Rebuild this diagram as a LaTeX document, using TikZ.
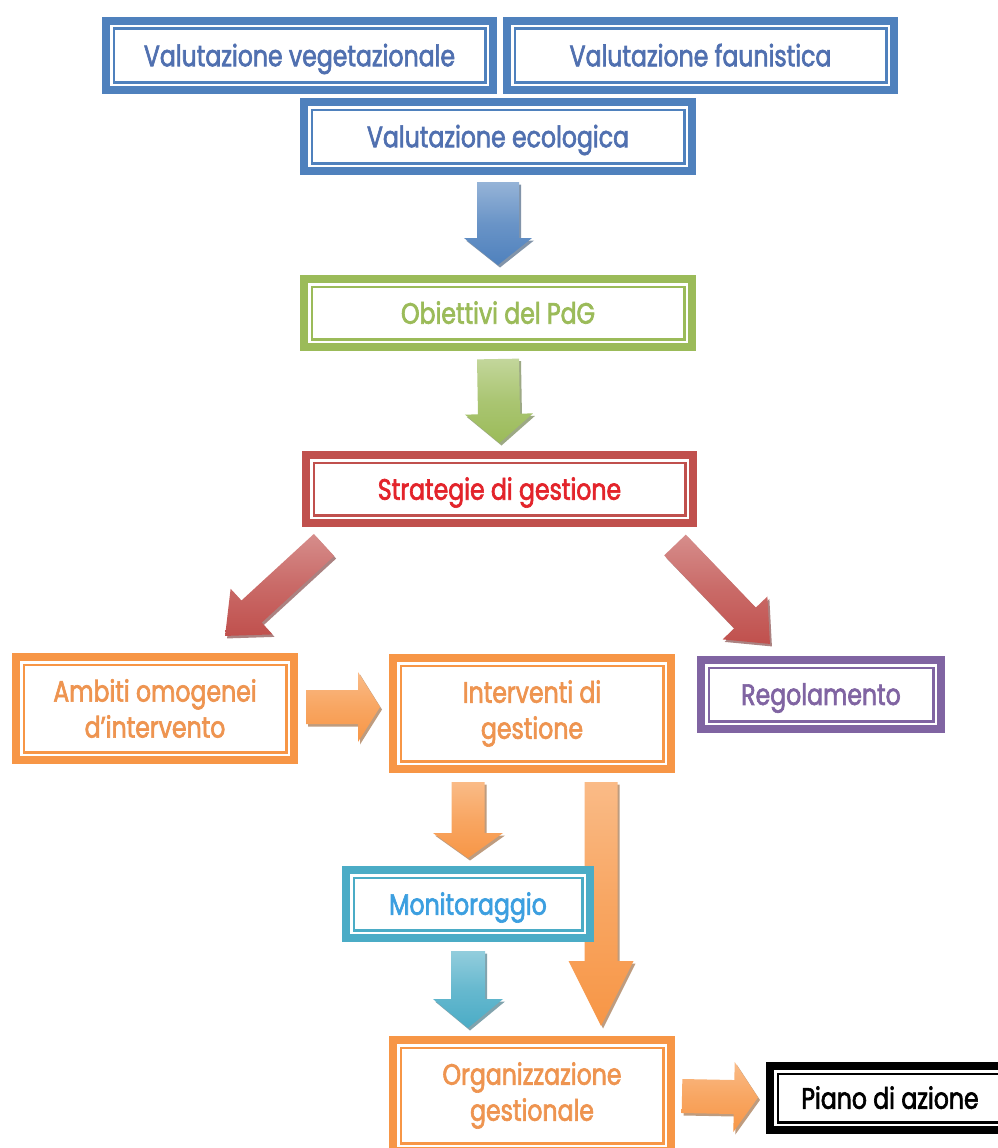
\documentclass[tikz,border=0pt]{standalone}
\usepackage{fontspec}
\setmainfont{Poppins}[FakeStretch=0.8, FakeBold=2.2]
\usetikzlibrary{calc,backgrounds}
\definecolor{cblue}{HTML}{4F81BD}\definecolor{tblue}{HTML}{5070B0}
\definecolor{cgreen}{HTML}{9BBB59}
\definecolor{cred}{HTML}{C0504D}\definecolor{tred}{HTML}{E3242B}
\definecolor{corange}{HTML}{F79646}\definecolor{torange}{HTML}{EE9450}
\definecolor{cpurple}{HTML}{8064A2}
\definecolor{cteal}{HTML}{4BACC6}\definecolor{tteal}{HTML}{3C9FE0}
\colorlet{lblue}{cblue!60!white}\colorlet{lgreen}{cgreen!60!white}
\colorlet{lred}{cred!65!white}\colorlet{lorange}{corange!65!white}
\colorlet{lteal}{cteal!60!white}
\newcommand\blockarrow[7]{% base, light, from, to, shaft half, head half, head length
  \path let \p1=(#3), \p2=(#4), \n1={atan2(\y2-\y1,\x2-\x1)}, \n2={veclen(\x2-\x1,\y2-\y1)} in
    \pgfextra{\xdef\baang{\n1}\xdef\bax{\x1}\xdef\bay{\y1}%
      \pgfmathsetmacro\balenL{\n2}\pgfmathsetmacro\babaseL{\n2-#7}%
      \global\let\balen\balenL\global\let\babase\babaseL};
  \begin{scope}[shift={(\bax,\bay)}, shift={(2pt,-2.5pt)}, rotate=\baang]
    \fill[#1!60!black, opacity=.6] (0pt,#5pt) -- (\babase pt,#5pt) -- (\babase pt,#6pt) -- (\balen pt,0pt) -- (\babase pt,-#6pt) -- (\babase pt,-#5pt) -- (0pt,-#5pt) -- cycle;
  \end{scope}
  \begin{scope}[shift={(\bax,\bay)}, rotate=\baang]
    \shade[top color=#2, bottom color=#1, middle color=#1!85!white] (0pt,#5pt) -- (\babase pt,#5pt) -- (\babase pt,#6pt) -- (\balen pt,0pt) -- (\babase pt,-#6pt) -- (\babase pt,-#5pt) -- (0pt,-#5pt) -- cycle;
  \end{scope}}
\newcommand\low[1]{\raisebox{-3.5pt}[\height][\depth]{\vphantom{Vg}#1}}
\tikzset{
  fbox/.style n args={4}{rectangle, draw=#1, line width=8pt, fill=white, inner sep=0pt,
    align=center, text=#2, minimum width=#3pt, minimum height=#4pt,
    font=\fontsize{29.5}{36}\selectfont,
    path picture={\draw[#1, line width=2.5pt]
      ([shift={(7.75pt,-7.75pt)}]path picture bounding box.north west) rectangle
      ([shift={(-7.75pt,7.75pt)}]path picture bounding box.south east);}},
}
\begin{document}
\begin{tikzpicture}[x=1pt,y=-1pt]
\useasboundingbox (0,0) rectangle (998,1148);
\clip (0,0) rectangle (998,1148);

\node[fbox={cblue}{tblue}{387}{69}] (veg) at (299.5,55.5) {\low{Valutazione vegetazionale}};
\node[fbox={cblue}{tblue}{387}{69}] (fau) at (700.5,55.5) {\low{Valutazione faunistica}};
\node[fbox={cblue}{tblue}{388}{69}] (eco) at (498,136.5) {\low{Valutazione ecologica}};
\node[fbox={cgreen}{cgreen}{388}{68}] (obi) at (498,313) {\low{Obiettivi del PdG}};
\node[fbox={cred}{tred}{387}{68}] (str) at (499.5,489) {\low{Strategie di gestione}};
\node[fbox={corange}{torange}{278}{103}] (amb) at (155,708.5) {Ambiti omogenei\\d’intervento};
\node[fbox={corange}{torange}{278}{111}] (int) at (532,713.5) {Interventi di\\gestione};
\node[fbox={cpurple}{cpurple}{240}{69}] (reg) at (821,694.5) {\low{Regolamento}};
\node[fbox={cteal}{tteal}{244}{68}] (mon) at (468,904) {\low{Monitoraggio}};
\node[fbox={corange}{torange}{278}{111}] (org) at (532,1095.5) {Organizzazione\\gestionale};
\node[fbox={black}{black}{240}{64}] (pia) at (890,1098) {\low{Piano di azione}};

\coordinate (a1s) at ($(eco.south)+(0,7)$);
\coordinate (a1e) at ($(obi.north)+(0,-10)$);
\coordinate (a2s) at ($(obi.south)+(0,8)$);
\coordinate (a2e) at ($(str.north)+(0,-8)$);
\coordinate (r1s) at ($(str.south west)+(22,18)$);
\coordinate (r1e) at ($(amb.north east)+(-73,-17)$);
\coordinate (r2s) at ($(str.south east)+(-22,18)$);
\coordinate (r2e) at ($(reg.north)+(-51,-12)$);
\coordinate (h1s) at ($(amb.east)+(8,-1.5)$);
\coordinate (h1e) at ($(int.west)+(-9,-6.5)$);
\coordinate (o1s) at ($(int.south)+(-64,9)$);
\coordinate (o1e) at ($(mon.north)+(0,-8)$);
\coordinate (o2s) at ($(int.south)+(69,9)$);
\coordinate (o2e) at ($(org.north)+(69,-10)$);
\coordinate (t1s) at ($(mon.south)+(0,9)$);
\coordinate (t1e) at ($(org.north)+(-64,-8)$);
\coordinate (h2s) at ($(org.east)+(7,0.5)$);
\coordinate (h2e) at ($(pia.west)+(-8,-0.5)$);

\begin{pgfonlayer}{background}
\fill[white] (0,0) rectangle (998,1148);
\blockarrow{cblue}{lblue}{a1s}{a1e}{21}{34}{27}
\blockarrow{cgreen}{lgreen}{a2s}{a2e}{21}{34}{29}
\blockarrow{cred}{lred}{r1s}{r1e}{15}{31}{36}
\blockarrow{cred}{lred}{r2s}{r2e}{15}{31}{36}
\blockarrow{corange}{lorange}{h1s}{h1e}{17}{35}{22}
\blockarrow{corange}{lorange}{o1s}{o1e}{16.5}{35}{25}
\blockarrow{corange}{lorange}{o2s}{o2e}{16.5}{32.5}{65}
\blockarrow{cteal}{lteal}{t1s}{t1e}{17}{35}{29}
\blockarrow{corange}{lorange}{h2s}{h2e}{17}{35}{24}
\end{pgfonlayer}
\end{tikzpicture}
\end{document}
